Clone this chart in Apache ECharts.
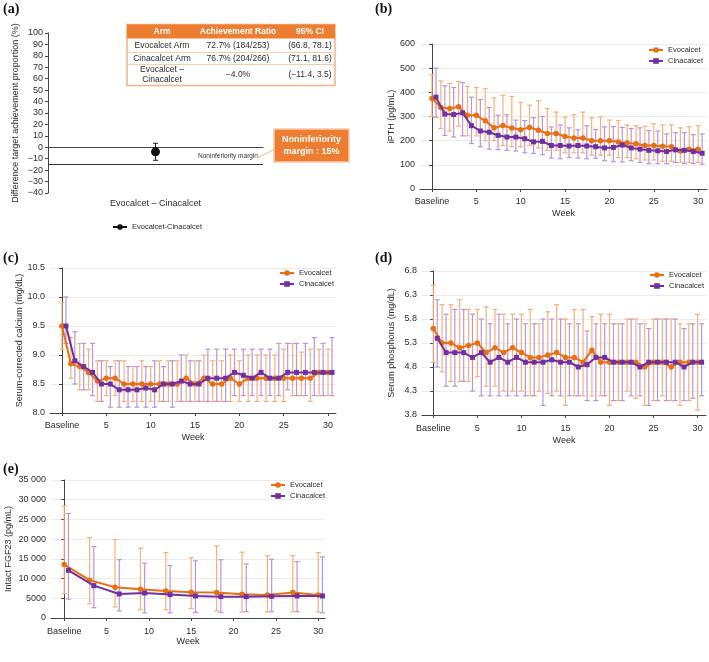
<!DOCTYPE html>
<html><head><meta charset="utf-8">
<script src="https://cdn.jsdelivr.net/npm/echarts@6/dist/echarts.min.js"></script>
<style>html,body{margin:0;padding:0;background:#fff}#c{width:709px;height:662px}</style>
</head><body><div id="c"></div>
<script>
// ---------- DATA ----------
const weeks = [0,1,2,3,4,5,6,7,8,9,10,11,12,13,14,15,16,17,18,19,20,21,22,23,24,25,26,27,28,29,30];
const fgfWeeks = [0,3,6,9,12,15,18,21,24,27,30];
const weekTicks = [0,5,10,15,20,25,30];

// (a)
const diffCategory = ['Evocalcet – Cinacalcet'];
const diffMean = [-4.0];
const diffLo = [-11.4];
const diffHi = [3.5];
const niMargin = -15;
const tableHeader = ['Arm','Achievement Ratio','95% CI'];
const tableRows = [
  ['Evocalcet Arm','72.7% (184/253)','(66.8, 78.1)'],
  ['Cinacalcet Arm','76.7% (204/266)','(71.1, 81.6)'],
  ['Evocalcet –\nCinacalcet','−4.0%','(−11.4, 3.5)']
];

// (b) iPTH
const pthEvo   = [375,337,333,340,305,305,282,253,263,252,245,255,243,230,230,217,211,211,200,200,200,195,190,187,180,180,177,175,157,165,165];
const pthEvoHi = [473,447,437,445,425,420,415,377,388,383,358,347,365,333,318,297,308,318,295,298,285,283,265,262,260,270,265,265,253,258,262];
const pthEvoLo = [300,250,240,260,220,220,200,200,180,175,175,180,170,160,160,150,150,150,140,140,140,130,130,125,120,120,115,115,110,110,110];
const pthCin   = [380,310,308,315,262,240,235,222,215,215,208,195,197,180,180,178,180,178,175,170,172,182,170,165,160,158,155,162,160,155,148];
const pthCinHi = [500,427,420,440,380,370,337,305,307,285,283,295,300,257,265,253,245,262,246,257,258,255,250,253,242,240,228,233,233,225,228];
const pthCinLo = [297,222,215,220,188,175,165,163,160,157,150,147,142,128,125,130,128,125,127,117,113,112,117,110,105,105,105,110,105,105,103];

// (c) calcium
const caEvo   = [9.5,8.85,8.8,8.7,8.55,8.6,8.6,8.5,8.5,8.5,8.5,8.5,8.5,8.5,8.6,8.5,8.6,8.5,8.5,8.6,8.5,8.6,8.6,8.6,8.6,8.6,8.6,8.6,8.6,8.7,8.7];
const caEvoHi = [9.9,9.3,9.2,9.1,8.9,8.9,8.9,8.9,8.8,8.9,8.8,8.9,8.9,8.9,9.0,8.9,9.0,8.9,8.9,9.0,8.9,9.0,9.0,9.0,9.0,9.1,9.2,9.05,9.1,9.1,9.1];
const caEvoLo = [9.1,8.6,8.4,8.4,8.2,8.3,8.3,8.2,8.2,8.2,8.2,8.2,8.2,8.2,8.2,8.2,8.2,8.2,8.2,8.2,8.2,8.2,8.2,8.2,8.2,8.2,8.3,8.3,8.2,8.3,8.3];
const caCin   = [9.5,8.9,8.8,8.7,8.5,8.5,8.4,8.4,8.4,8.43,8.4,8.5,8.5,8.55,8.5,8.5,8.6,8.6,8.6,8.7,8.65,8.6,8.7,8.6,8.6,8.7,8.7,8.7,8.7,8.7,8.7];
const caCinHi = [10.0,9.4,9.2,9.2,8.9,8.8,8.9,8.8,8.8,8.8,8.9,8.8,8.9,9.0,8.9,8.9,9.1,9.1,9.1,9.1,9.1,9.1,9.1,9.1,9.2,9.2,9.2,9.2,9.3,9.2,9.3];
const caCinLo = [9.2,8.5,8.4,8.3,8.2,8.1,8.1,8.1,8.1,8.1,8.1,8.2,8.1,8.2,8.2,8.2,8.2,8.2,8.2,8.3,8.3,8.3,8.3,8.3,8.3,8.4,8.3,8.3,8.3,8.3,8.3];

// (d) phosphorus
const phEvo   = [5.6,5.3,5.3,5.2,5.25,5.3,5.1,5.2,5.1,5.2,5.1,5.0,5.0,5.05,5.1,5.0,5.0,4.9,5.15,4.9,4.9,4.9,4.9,4.9,4.8,4.9,4.9,4.8,4.9,4.9,4.9];
const phEvoHi = [6.5,6.1,6.1,6.2,6.0,6.0,6.05,6.0,5.9,5.9,5.9,6.0,5.7,5.95,6.1,5.8,6.0,6.0,5.85,5.9,5.9,5.7,5.8,5.8,5.7,5.8,5.8,5.8,5.7,5.7,5.9];
const phEvoLo = [4.9,4.7,4.5,4.5,4.5,4.6,4.4,4.4,4.3,4.3,4.3,4.2,4.3,4.25,4.3,4.0,4.2,4.2,4.2,4.2,4.0,4.1,4.3,4.15,4.0,4.1,4.2,4.1,4.0,4.1,3.9];
const phCin   = [5.4,5.1,5.1,5.1,5.0,5.1,4.9,5.0,4.9,5.0,4.9,4.9,4.9,4.95,4.9,4.9,4.8,4.85,5.0,5.0,4.9,4.9,4.9,4.8,4.9,4.9,4.9,4.9,4.8,4.9,4.9];
const phCinHi = [6.2,5.9,6.0,6.0,5.9,5.8,5.7,5.9,5.7,5.8,5.7,5.7,5.8,5.8,5.8,5.7,5.7,5.55,5.7,5.7,5.7,5.7,5.8,5.7,5.6,5.8,5.8,5.8,5.6,5.7,5.7];
const phCinLo = [4.8,4.4,4.4,4.5,4.3,4.2,4.2,4.2,4.2,4.2,4.2,4.2,4.0,4.2,4.2,4.2,4.2,4.1,4.1,4.2,4.1,4.1,4.2,4.2,4.0,4.1,4.1,4.1,4.1,4.15,4.2];

// (e) FGF23
const fgfEvo   = [13550,9600,7800,7300,6850,6500,6450,6000,5850,6450,5850];
const fgfEvoHi = [28400,20400,19900,17700,16600,15300,18300,16700,15800,15800,16600];
const fgfEvoLo = [6200,3600,2800,2100,2100,2400,1800,1500,1500,1600,1500];
const fgfCin   = [12100,8200,6100,6350,5930,5600,5420,5420,5500,5600,5600];
const fgfCinHi = [26500,18100,14800,13900,13300,14500,14800,13700,14900,14300,15500];
const fgfCinLo = [4800,2600,1800,1300,1300,1400,1400,1600,1600,1600,1300];

// ---------- STYLE ----------
const ORANGE = '#E8700F', PURPLE = '#7030A0';
const ORANGE_L = '#F7B07A', PURPLE_L = '#B796DA';
const FONT = '"Liberation Sans", Arial, sans-serif';
const TXT = '#2b2b2b';
const AX = '#444';
const FS = 9;

function errRender(color, capHalf, lw){
  return function(params, api){
    const x = api.value(0), lo = api.value(1), hi = api.value(2);
    const p1 = api.coord([x, lo]), p2 = api.coord([x, hi]);
    const st = {stroke: color, lineWidth: lw || 1};
    return {type:'group', children:[
      {type:'line', shape:{x1:p1[0], y1:p1[1], x2:p2[0], y2:p2[1]}, style: st},
      {type:'line', shape:{x1:p1[0]-capHalf, y1:p1[1], x2:p1[0]+capHalf, y2:p1[1]}, style: st},
      {type:'line', shape:{x1:p2[0]-capHalf, y1:p2[1], x2:p2[0]+capHalf, y2:p2[1]}, style: st}
    ]};
  };
}

const grids = [
  {left:48, top:33, width:215, height:160},   // a
  {left:420, top:44, width:287, height:145},  // b
  {left:50, top:268, width:286, height:145},  // c
  {left:422, top:271, width:284, height:144}, // d
  {left:51, top:480, width:274, height:138}   // e
];

const xAxes = [], yAxes = [], series = [];

function weekXAxis(gi, min, max, margin, gap){
  return {
    type:'value', gridIndex:gi, min:min, max:max,
    name:'Week', nameLocation:'middle', nameGap:gap,
    nameTextStyle:{fontFamily:FONT, fontSize:FS, color:TXT},
    axisLine:{show:true, lineStyle:{color:AX}},
    axisTick:{show:true, customValues:weekTicks, length:3, lineStyle:{color:AX}},
    axisLabel:{customValues:weekTicks, fontFamily:FONT, fontSize:FS, color:TXT, margin:margin,
      formatter: v => v === 0 ? 'Baseline' : String(v)},
    splitLine:{show:false}
  };
}
function valYAxis(gi, min, max, interval, name, gap, fmt){
  return {
    type:'value', gridIndex:gi, min:min, max:max, interval:interval,
    name:name, nameLocation:'middle', nameGap:gap,
    nameTextStyle:{fontFamily:FONT, fontSize:FS, color:TXT},
    axisLine:{show:true, lineStyle:{color:AX}},
    axisTick:{show:true, length:3, lineStyle:{color:AX}},
    axisLabel:{fontFamily:FONT, fontSize:FS, color:TXT, margin:5, formatter: fmt},
    splitLine:{show:true, lineStyle:{color:'#ececec', width:1}}
  };
}

// (a)
xAxes.push({type:'category', gridIndex:0, data:diffCategory, boundaryGap:true,
  axisLine:{show:true, lineStyle:{color:AX}},
  axisTick:{show:true, alignWithLabel:true, length:3, lineStyle:{color:AX}},
  axisLabel:{fontFamily:FONT, fontSize:FS, color:TXT, margin:6}});
yAxes.push({type:'value', gridIndex:0, min:-40, max:100, interval:10,
  name:'Difference target achievement proportion (%)', nameLocation:'middle', nameGap:28,
  nameTextStyle:{fontFamily:FONT, fontSize:FS, color:TXT},
  axisLine:{show:true, lineStyle:{color:AX}},
  axisTick:{show:true, length:3, lineStyle:{color:AX}},
  axisLabel:{fontFamily:FONT, fontSize:FS, color:TXT, margin:5, formatter: v => v < 0 ? '−' + Math.abs(v) : String(v)},
  splitLine:{show:false}});
series.push({type:'custom', name:'diffErr', xAxisIndex:0, yAxisIndex:0, z:2,
  renderItem: errRender('#222', 2.5, 1),
  encode:{x:0, y:[1,2]},
  data: diffCategory.map((c,i)=>[i, diffLo[i], diffHi[i]])});
series.push({type:'line', name:'Evocalcet-Cinacalcet', xAxisIndex:0, yAxisIndex:0, z:3,
  symbol:'circle', symbolSize:9, itemStyle:{color:'#111'}, lineStyle:{color:'#111', width:2},
  data: diffMean,
  markLine:{silent:true, symbol:'none', label:{show:false},
    lineStyle:{color:'#333', type:'solid', width:1},
    data:[{yAxis:niMargin}]}});

// (b)-(e) builders
function panel(gi, xs, dodge, evo, evoLo, evoHi, cin, cinLo, cinHi, cap){
  series.push({type:'custom', name:'Evocalcet range', xAxisIndex:gi, yAxisIndex:gi, z:1,
    renderItem: errRender(ORANGE_L, cap, 1.2), encode:{x:0, y:[1,2]},
    data: xs.map((w,i)=>[w, evoLo[i], evoHi[i]])});
  series.push({type:'custom', name:'Cinacalcet range', xAxisIndex:gi, yAxisIndex:gi, z:1,
    renderItem: errRender(PURPLE_L, cap, 1.2), encode:{x:0, y:[1,2]},
    data: xs.map((w,i)=>[w + dodge, cinLo[i], cinHi[i]])});
  series.push({type:'line', name:'Evocalcet', xAxisIndex:gi, yAxisIndex:gi, z:3,
    symbol:'circle', symbolSize:5.5, itemStyle:{color:ORANGE}, lineStyle:{color:ORANGE, width:2},
    data: xs.map((w,i)=>[w, evo[i]])});
  series.push({type:'line', name:'Cinacalcet', xAxisIndex:gi, yAxisIndex:gi, z:4,
    symbol:'rect', symbolSize:5, itemStyle:{color:PURPLE}, lineStyle:{color:PURPLE, width:2},
    data: xs.map((w,i)=>[w + dodge, cin[i]])});
}

xAxes.push(weekXAxis(1, -1.35, 31, 8, 20));
yAxes.push(valYAxis(1, 0, 600, 100, 'iPTH (pg/mL)', 22.5));
panel(1, weeks, 0.45, pthEvo, pthEvoLo, pthEvoHi, pthCin, pthCinLo, pthCinHi, 2.5);

xAxes.push(weekXAxis(2, -1.35, 30.9, 8, 20));
yAxes.push(valYAxis(2, 8.0, 10.5, 0.5, 'Serum-corrected calcium (mg/dL)', 25.5, v => v.toFixed(1)));
panel(2, weeks, 0.45, caEvo, caEvoLo, caEvoHi, caCin, caCinLo, caCinHi, 2.5);

xAxes.push(weekXAxis(3, -1.28, 30.95, 9, 21));
yAxes.push(valYAxis(3, 3.8, 6.8, 0.5, 'Serum phosphorus (mg/dL)', 25.5, v => v.toFixed(1)));
panel(3, weeks, 0.45, phEvo, phEvoLo, phEvoHi, phCin, phCinLo, phCinHi, 2.5);

xAxes.push(weekXAxis(4, -1.56, 30.8, 9, 19.5));
yAxes.push(valYAxis(4, 0, 35000, 5000, 'Intact FGF23 (pg/mL)', 38,
  v => v >= 10000 ? String(v).replace(/\B(?=(\d{3})+(?!\d))/g, ' ') : String(v)));
panel(4, fgfWeeks, 0.5, fgfEvo, fgfEvoLo, fgfEvoHi, fgfCin, fgfCinLo, fgfCinHi, 2.5);

function legendAt(left, top, names){
  return {left:left, top:top, orient:'vertical', data:names, itemWidth:14, itemHeight:7, itemGap:3,
    selectedMode:false, textStyle:{fontFamily:FONT, fontSize:7.5, color:TXT}, padding:0};
}
const legends = [
  legendAt(112, 223, ['Evocalcet-Cinacalcet']),
  legendAt(648, 46, ['Evocalcet','Cinacalcet']),
  legendAt(279, 269, ['Evocalcet','Cinacalcet']),
  legendAt(649, 271, ['Evocalcet','Cinacalcet']),
  legendAt(270, 481, ['Evocalcet','Cinacalcet'])
];

// ---------- GRAPHICS (panel labels, table, annotation) ----------
const g = [];
const panelLabels = [['(a)',3,2],['(b)',375,2],['(c)',3,251],['(d)',375,251],['(e)',3,462]];
panelLabels.forEach(p => g.push({type:'text', left:p[1], top:p[2], z:10,
  style:{text:p[0], font:'bold 14px "Liberation Serif", "DejaVu Serif", serif', fill:'#111'}}));

// table
const tX = 127, tW = 208, colX = [162, 238, 310];
const rowY = [24.5, 38.5, 52.5, 64.5, 85.5];
g.push({type:'rect', z:10, shape:{x:tX, y:rowY[0], width:tW, height:rowY[4]-rowY[0]},
  style:{fill:'#fff', stroke:'#F4B183', lineWidth:1.5}});
g.push({type:'rect', z:10, shape:{x:tX, y:rowY[0], width:tW, height:rowY[1]-rowY[0]},
  style:{fill:'#ED7D31'}});
[rowY[2], rowY[3]].forEach(y => g.push({type:'line', z:10,
  shape:{x1:tX, y1:y, x2:tX+tW, y2:y}, style:{stroke:'#F8CBAD', lineWidth:1}}));
tableHeader.forEach((h,i) => g.push({type:'text', z:11, x:colX[i], y:(rowY[0]+rowY[1])/2,
  style:{text:h, align:'center', verticalAlign:'middle', fill:'#fff',
    font:'bold 8.5px "Liberation Sans", Arial, sans-serif'}}));
tableRows.forEach((r,ri) => r.forEach((t,ci) => g.push({type:'text', z:11, x:colX[ci], y:(rowY[ri+1]+rowY[ri+2])/2,
  style:{text:t, align:'center', verticalAlign:'middle', fill:'#2b2b2b', lineHeight:10,
    font:'8.5px "Liberation Sans", Arial, sans-serif'}})));

// noninferiority annotation
g.push({type:'text', z:10, x:228, y:156, style:{text:'Noninferiority margin', align:'center', verticalAlign:'middle',
  fill:'#333', font:'6.5px "Liberation Sans", Arial, sans-serif'}});
g.push({type:'line', z:10, shape:{x1:257, y1:158, x2:275, y2:149}, style:{stroke:'#F4B183', lineWidth:1}});
g.push({type:'rect', z:10, shape:{x:274, y:129, width:75, height:33},
  style:{fill:'#ED7D31', stroke:'#F8CBAD', lineWidth:1.5}});
g.push({type:'text', z:11, x:311.5, y:145.5, style:{text:'Noninferiority\nmargin : 15%', align:'center', verticalAlign:'middle',
  fill:'#fff', lineHeight:12, font:'bold 9px "Liberation Sans", Arial, sans-serif'}});

const chart = echarts.init(document.getElementById('c'), null, {renderer:'canvas'});
chart.setOption({
  animation:false,
  backgroundColor:'#fff',
  grid: grids,
  xAxis: xAxes,
  yAxis: yAxes,
  legend: legends,
  series: series,
  graphic: g
});
</script></body></html>
